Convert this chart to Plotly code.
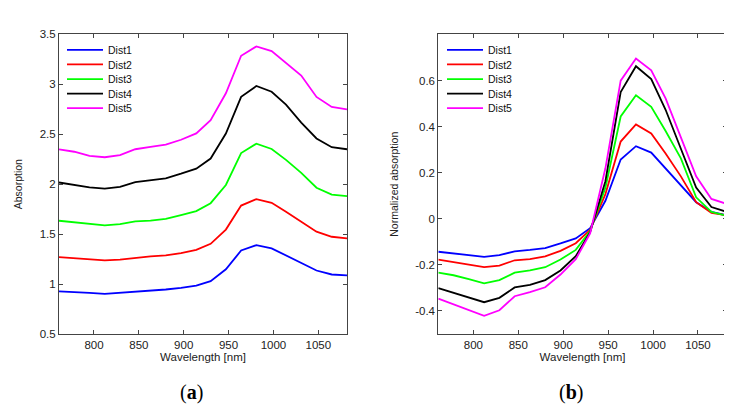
import plotly.graph_objects as go

# ---------------- data ----------------
wavelength = [761, 778, 795, 812, 829, 846, 863, 880, 897, 914,
              930, 947, 964, 981, 998, 1014, 1031, 1048, 1065, 1082]

series_names = ["Dist1", "Dist2", "Dist3", "Dist4", "Dist5"]
series_colors = ["#0000ff", "#ff0000", "#00ff00", "#000000", "#ff00ff"]

abs_dist1 = [0.926, 0.923, 0.913, 0.903, 0.913, 0.926, 0.936, 0.946, 0.962, 0.985,
             1.030, 1.148, 1.336, 1.390, 1.358, 1.287, 1.212, 1.136, 1.096, 1.088]
abs_dist2 = [1.270, 1.260, 1.248, 1.238, 1.244, 1.263, 1.277, 1.287, 1.310, 1.342,
             1.403, 1.546, 1.786, 1.851, 1.814, 1.725, 1.627, 1.525, 1.474, 1.457]
abs_dist3 = [1.634, 1.620, 1.600, 1.587, 1.600, 1.628, 1.635, 1.652, 1.690, 1.731,
             1.810, 1.992, 2.312, 2.406, 2.353, 2.244, 2.114, 1.965, 1.896, 1.880]
abs_dist4 = [2.017, 1.990, 1.968, 1.955, 1.974, 2.020, 2.039, 2.059, 2.105, 2.155,
             2.257, 2.507, 2.875, 2.983, 2.926, 2.796, 2.617, 2.458, 2.370, 2.350]
abs_dist5 = [2.348, 2.325, 2.283, 2.270, 2.292, 2.350, 2.373, 2.397, 2.445, 2.509,
             2.641, 2.910, 3.286, 3.380, 3.333, 3.218, 3.088, 2.874, 2.773, 2.750]

norm_dist1 = [-0.143, -0.150, -0.158, -0.165, -0.158, -0.141, -0.135, -0.127, -0.107, -0.085,
              -0.041, 0.078, 0.257, 0.315, 0.287, 0.219, 0.142, 0.072, 0.030, 0.015]
norm_dist2 = [-0.177, -0.189, -0.200, -0.210, -0.203, -0.180, -0.175, -0.163, -0.139, -0.106,
              -0.048, 0.107, 0.335, 0.409, 0.370, 0.283, 0.184, 0.072, 0.025, 0.015]
norm_dist3 = [-0.234, -0.245, -0.262, -0.280, -0.266, -0.234, -0.224, -0.210, -0.177, -0.135,
              -0.053, 0.135, 0.444, 0.536, 0.486, 0.381, 0.262, 0.093, 0.030, 0.013]
norm_dist4 = [-0.301, -0.322, -0.340, -0.362, -0.343, -0.298, -0.287, -0.266, -0.224, -0.162,
              -0.058, 0.163, 0.550, 0.662, 0.606, 0.473, 0.304, 0.135, 0.051, 0.030]
norm_dist5 = [-0.346, -0.371, -0.397, -0.421, -0.397, -0.336, -0.318, -0.297, -0.242, -0.175,
              -0.063, 0.219, 0.599, 0.695, 0.644, 0.522, 0.353, 0.184, 0.086, 0.065]

x_tickvals = [800, 850, 900, 950, 1000, 1050]
left_y_tickvals = [0.5, 1, 1.5, 2, 2.5, 3, 3.5]
left_y_ticktext = ["0.5", "1", "1.5", "2", "2.5", "3", "3.5"]
right_y_tickvals = [-0.4, -0.2, 0, 0.2, 0.4, 0.6]
right_y_ticktext = ["-0.4", "-0.2", "0", "0.2", "0.4", "0.6"]

abs_series = [abs_dist1, abs_dist2, abs_dist3, abs_dist4, abs_dist5]
norm_series = [norm_dist1, norm_dist2, norm_dist3, norm_dist4, norm_dist5]

# ---------------- figure ----------------
W, H = 732, 409
FONT = "Liberation Sans, Arial, sans-serif"
fig = go.Figure()

legend_rows_y = [37, 52, 67, 82, 97]  # pixel rows of legend entries

def py(p):
    return 1 - p / H

layout_legends = {}
for i, (name, color, ys) in enumerate(zip(series_names, series_colors, abs_series)):
    key = "legend" if i == 0 else f"legend{i + 1}"
    fig.add_trace(go.Scatter(x=wavelength, y=ys, mode="lines", name=name,
                             line=dict(color=color, width=1.8),
                             xaxis="x", yaxis="y", legend=key, showlegend=True))
    layout_legends[key] = dict(x=54 / W, y=py(legend_rows_y[i]), xanchor="left", yanchor="middle",
                               bgcolor="rgba(0,0,0,0)", borderwidth=0,
                               font=dict(family=FONT, size=10.5, color="#111"),
                               itemwidth=36, tracegroupgap=0)

for i, (name, color, ys) in enumerate(zip(series_names, series_colors, norm_series)):
    key = f"legend{i + 6}"
    fig.add_trace(go.Scatter(x=wavelength, y=ys, mode="lines", name=name,
                             line=dict(color=color, width=1.8),
                             xaxis="x2", yaxis="y2", legend=key, showlegend=True))
    layout_legends[key] = dict(x=434 / W, y=py(legend_rows_y[i]), xanchor="left", yanchor="middle",
                               bgcolor="rgba(0,0,0,0)", borderwidth=0,
                               font=dict(family=FONT, size=10.5, color="#111"),
                               itemwidth=36, tracegroupgap=0)

axis_common = dict(showline=True, linecolor="#444", linewidth=1, mirror="ticks",
                   ticks="inside", ticklen=4, tickcolor="#444", tickwidth=1,
                   showgrid=False, zeroline=False,
                   tickfont=dict(family=FONT, size=11.5, color="#222"))

ydom = [py(329.7), py(21)]

fig.update_layout(
    width=W, height=H, autosize=False,
    margin=dict(l=0, r=0, t=0, b=0),
    paper_bgcolor="white", plot_bgcolor="white",
    xaxis=dict(domain=[51 / W, 339 / W], range=[761, 1082], tickvals=x_tickvals,
               title=dict(text="Wavelength [nm]", font=dict(family=FONT, size=11.5, color="#222"), standoff=2),
               anchor="y", **axis_common),
    yaxis=dict(domain=ydom, range=[0.5, 3.5], tickvals=left_y_tickvals, ticktext=left_y_ticktext,
               title=dict(text="Absorption", font=dict(family=FONT, size=10.5, color="#222"), standoff=15),
               anchor="x", **axis_common),
    xaxis2=dict(domain=[430.3 / W, 718.7 / W], range=[761, 1082], tickvals=x_tickvals,
                title=dict(text="Wavelength [nm]", font=dict(family=FONT, size=11.5, color="#222"), standoff=2),
                anchor="y2", **axis_common),
    yaxis2=dict(domain=ydom, range=[-0.5, 0.8], tickvals=right_y_tickvals, ticktext=right_y_ticktext,
                title=dict(text="Normalized absorption", font=dict(family=FONT, size=10.5, color="#222"), standoff=14),
                anchor="x2", **axis_common),
    annotations=[
        dict(text="(<b>a</b>)", x=183 / W, y=py(390), xref="paper", yref="paper",
             xanchor="center", yanchor="middle", showarrow=False,
             font=dict(family="Liberation Serif, Times New Roman, serif", size=20, color="#000")),
        dict(text="(<b>b</b>)", x=563 / W, y=py(390), xref="paper", yref="paper",
             xanchor="center", yanchor="middle", showarrow=False,
             font=dict(family="Liberation Serif, Times New Roman, serif", size=20, color="#000")),
    ],
    **layout_legends,
)

fig.write_html("out.html")
